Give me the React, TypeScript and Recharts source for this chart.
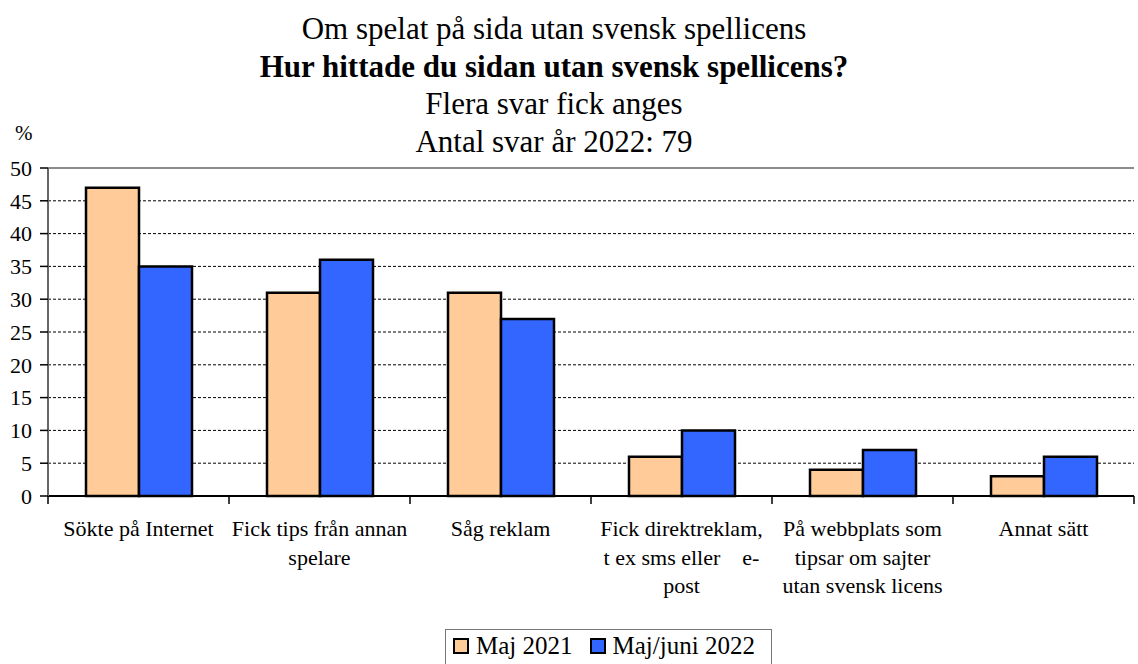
import { BarChart, Bar, XAxis, YAxis, CartesianGrid, ReferenceLine } from "recharts";

const categories = [
  "Sökte på Internet",
  "Fick tips från annan\nspelare",
  "Såg reklam",
  "Fick direktreklam,\nt ex sms eller    e-\npost",
  "På webbplats som\ntipsar om sajter\nutan svensk licens",
  "Annat sätt",
];
const maj2021 = [47, 31, 31, 6, 4, 3];
const maj2022 = [35, 36, 27, 10, 7, 6];
const yTicks = [0, 5, 10, 15, 20, 25, 30, 35, 40, 45, 50];

const series = [
  { key: "maj2021", name: "Maj 2021", color: "#FFCC99" },
  { key: "maj2022", name: "Maj/juni 2022", color: "#3366FF" },
];

const titleLines = [
  { text: "Om spelat på sida utan svensk spellicens", bold: false },
  { text: "Hur hittade du sidan utan svensk spellicens?", bold: true },
  { text: "Flera svar fick anges", bold: false },
  { text: "Antal svar år 2022: 79", bold: false },
];

const data = categories.map((c, i) => ({
  category: c,
  maj2021: maj2021[i],
  maj2022: maj2022[i],
}));

const FONT = "'Liberation Serif', 'Times New Roman', serif";
const PLOT_LEFT = 48;
const PLOT_RIGHT = 1134;
const BAND = (PLOT_RIGHT - PLOT_LEFT) / categories.length;

function CategoryTick(props: any) {
  const { x, y, payload, index } = props;
  const lines = String(payload.value).split("\n");
  return (
    <g>
      <line x1={x - BAND / 2} x2={x - BAND / 2} y1={y - 8} y2={y} stroke="#000" strokeWidth={1.5} />
      {index === categories.length - 1 && (
        <line x1={x + BAND / 2} x2={x + BAND / 2} y1={y - 8} y2={y} stroke="#000" strokeWidth={1.5} />
      )}
      <text
        x={x}
        y={y + 32}
        textAnchor="middle"
        fontSize={22}
        fontFamily={FONT}
        fill="#000"
        style={{ whiteSpace: "pre" }}
      >
        {lines.map((l, i) => (
          <tspan key={i} x={x} dy={i === 0 ? 0 : 28.5}>
            {l}
          </tspan>
        ))}
      </text>
    </g>
  );
}

export default function App() {
  return (
    <div style={{ position: "relative", width: 1138, height: 664, background: "#fff", fontFamily: FONT, overflow: "hidden" }}>
      <style>{"body{margin:0}"}</style>
      {titleLines.map((t, i) => (
        <div
          key={i}
          style={{
            position: "absolute",
            left: 0,
            width: 1108,
            top: 10 + i * 37.5,
            textAlign: "center",
            fontSize: 31,
            fontWeight: t.bold ? "bold" : "normal",
            lineHeight: "38px",
            color: "#000",
            whiteSpace: "nowrap",
          }}
        >
          {t.text}
        </div>
      ))}
      <div style={{ position: "absolute", left: 15, top: 121, fontSize: 21, lineHeight: "24px" }}>%</div>
      <BarChart
        width={1138}
        height={664}
        data={data}
        margin={{ top: 168, right: 1138 - PLOT_RIGHT, bottom: 68, left: 0 }}
        barGap={0}
        barCategoryGap={38}
      >
        <CartesianGrid horizontal vertical={false} stroke="#000" strokeDasharray="3 2" strokeWidth={1} />
        <ReferenceLine y={50} stroke="#8c8c8c" strokeWidth={2} />
        <XAxis
          dataKey="category"
          interval={0}
          height={100}
          axisLine={{ stroke: "#000", strokeWidth: 2 }}
          tickLine={false}
          tick={<CategoryTick />}
        />
        <YAxis
          domain={[0, 50]}
          ticks={yTicks}
          interval={0}
          width={PLOT_LEFT}
          axisLine={{ stroke: "#666", strokeWidth: 2 }}
          tickLine={{ stroke: "#000", strokeWidth: 1.5 }}
          tickSize={8}
          tickMargin={8}
          tick={{ fill: "#000", fontSize: 22, fontFamily: FONT }}
        />
        {series.map((s) => (
          <Bar
            key={s.key}
            dataKey={s.key}
            name={s.name}
            fill={s.color}
            stroke="#000"
            strokeWidth={2.5}
            isAnimationActive={false}
          />
        ))}
      </BarChart>
      <div
        style={{
          position: "absolute",
          left: 445,
          top: 629,
          width: 327,
          height: 40,
          border: "1px solid #777",
          boxSizing: "border-box",
          display: "flex",
          alignItems: "center",
          paddingLeft: 7,
          paddingBottom: 6,
          fontSize: 25,
          lineHeight: "28px",
          whiteSpace: "nowrap",
        }}
      >
        {series.map((s) => (
          <div key={s.key} style={{ display: "flex", alignItems: "center", marginRight: 17 }}>
            <span
              style={{
                display: "inline-block",
                width: 12,
                height: 12,
                background: s.color,
                border: "2px solid #000",
                marginRight: 7,
              }}
            />
            <span>{s.name}</span>
          </div>
        ))}
      </div>
    </div>
  );
}
